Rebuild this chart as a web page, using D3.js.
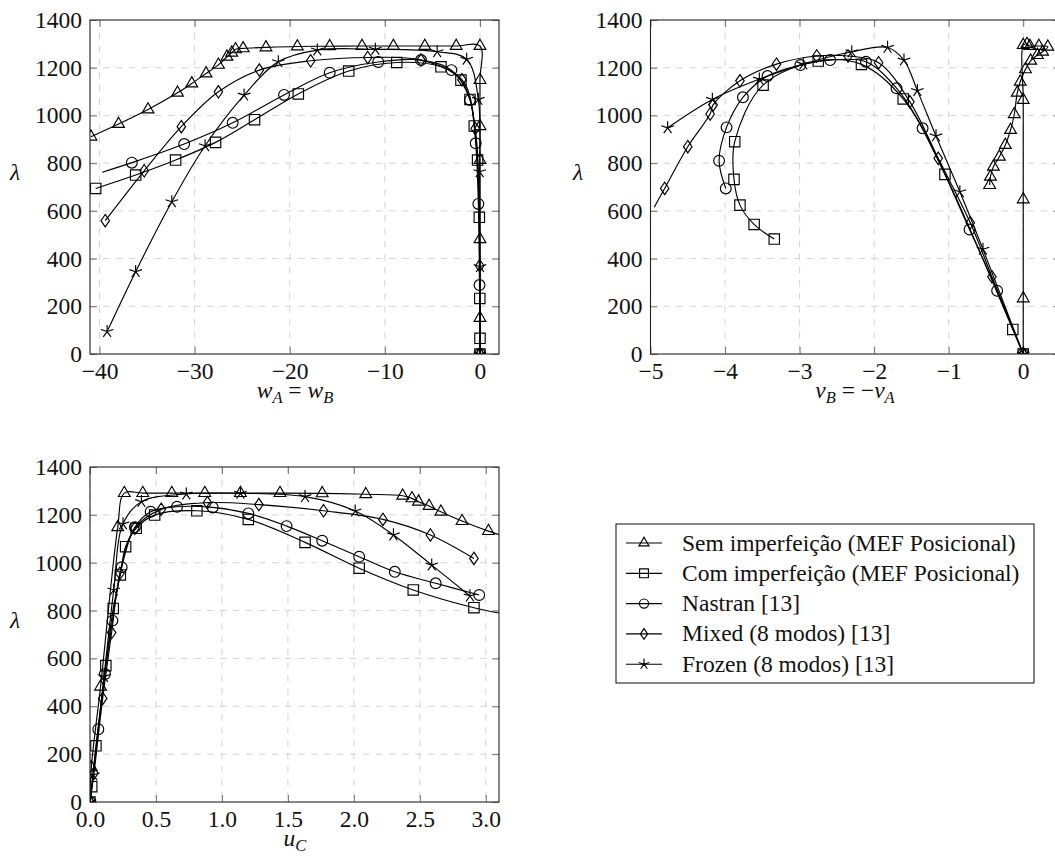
<!DOCTYPE html>
<html lang="pt">
<head>
<meta charset="UTF-8">
<title>Trajetórias de equilíbrio</title>
<script src="https://cdnjs.cloudflare.com/ajax/libs/d3/7.8.5/d3.min.js"></script>
<style>
  * { margin: 0; padding: 0; }
  body { background: #fff; width: 1055px; height: 866px; overflow: hidden; }
  svg text { font-family: "Liberation Serif", "Times New Roman", Times, serif !important; }
</style>
</head>
<body>
<svg id="chart" width="1055" height="866"></svg>
<script>
// ---- dados ----
const seriesNames = [
  "Sem imperfeição (MEF Posicional)",
  "Com imperfeição (MEF Posicional)",
  "Nastran [13]",
  "Mixed (8 modos) [13]",
  "Frozen (8 modos) [13]"
];
const markTypes = ["triangle", "square", "circle", "diamond", "star"];

const yTicks = [0, 200, 400, 600, 800, 1000, 1200, 1400];

// painel w_A = w_B
const xTicksW = [-40, -30, -20, -10, 0];
const semW = [[0,0],[0,151],[0,481],[0,813],[0,955],[0,1148],[0,1291],[-2.5,1291],[-5.8,1291],[-9.1,1291],[-12.4,1291],[-15.8,1290],[-19.2,1289],[-22.5,1285],[-24.9,1281],[-25.7,1277],[-26.1,1263],[-26.6,1246],[-27.5,1212],[-28.8,1176],[-30.3,1134],[-31.8,1095],[-34.9,1025],[-38.0,964],[-40.9,911]];
const comW = [[0,0],[0,66],[-0.02,233],[-0.07,573],[-0.25,813],[-0.6,956],[-1.05,1067],[-2.0,1148],[-4.1,1204],[-8.75,1222],[-13.8,1186],[-19.1,1090],[-23.7,982],[-27.8,887],[-32.0,813],[-36.2,750],[-40.4,694]];
const nasW = [[0,0],[-0.05,289],[-0.17,629],[-0.45,883],[-1.05,1065],[-3.0,1190],[-6.2,1232],[-10.7,1224],[-15.8,1179],[-20.6,1086],[-26.0,969],[-31.1,880],[-36.6,802],[-39.7,762]];
const mixW = [[0,0],[-0.03,370],[-0.5,945],[-1.9,1150],[-6.2,1232],[-11.8,1243],[-17.8,1229],[-23.2,1190],[-27.5,1099],[-31.4,953],[-35.3,768],[-39.4,559]];
const froW = [[0,0],[0,366],[-0.03,764],[-0.17,1067],[-1.4,1235],[-4.5,1267],[-11.0,1277],[-17.1,1274],[-21.2,1225],[-24.8,1085],[-28.9,873],[-32.4,638],[-36.2,345],[-39.2,94]];
const lineOnlyW = [[-39.7,762]];

// painel v_B = -v_A
const xTicksV = [-5, -4, -3, -2, -1, 0];
const semV = [[0,0],[0,233],[0,648],[0,1065],[0,1295],[0.05,1299],[0.09,1291],[0.21,1291],[0.33,1288],[0.26,1267],[0.19,1253],[0.10,1229],[0.03,1193],[-0.04,1141],[-0.08,1095],[-0.12,1005],[-0.17,939],[-0.24,876],[-0.32,827],[-0.40,785],[-0.44,743],[-0.45,708]];
const comV = [[0,0],[-0.14,103],[-1.05,753],[-1.61,1069],[-2.17,1214],[-2.75,1228],[-3.49,1127],[-3.87,890],[-3.88,732],[-3.80,624],[-3.61,543],[-3.34,482]];
const nasV = [[0,0],[-0.35,265],[-0.72,522],[-1.35,946],[-1.70,1114],[-2.11,1225],[-2.59,1232],[-2.99,1211],[-3.43,1165],[-3.76,1076],[-3.98,950],[-4.08,810],[-3.99,694]];
const mixV = [[0,0],[-0.42,324],[-0.71,550],[-1.14,820],[-1.52,1057],[-1.94,1221],[-2.35,1249],[-2.77,1249],[-3.31,1215],[-3.80,1145],[-4.16,1044],[-4.20,1006],[-4.50,869],[-4.81,694],[-4.95,615]];
const froV = [[0,0],[-0.54,439],[-0.85,680],[-1.17,914],[-1.42,1104],[-1.60,1232],[-1.82,1285],[-2.30,1267],[-2.95,1215],[-3.54,1152],[-4.17,1067],[-4.77,948]];
const lineOnlyV = [[-4.95,615]];

// painel u_C
const xTicksU = [0, 0.5, 1.0, 1.5, 2.0, 2.5, 3.0];
const semU = [[0,0],[0.01,145],[0.08,482],[0.21,1148],[0.26,1291],[0.40,1291],[0.62,1291],[0.87,1291],[1.14,1291],[1.44,1291],[1.76,1290],[2.09,1286],[2.37,1280],[2.44,1269],[2.49,1255],[2.57,1237],[2.66,1213],[2.82,1174],[3.02,1132],[3.3,1085]];
const comU = [[0,0],[0.013,64],[0.045,235],[0.12,570],[0.176,809],[0.23,949],[0.27,1067],[0.35,1144],[0.49,1199],[0.81,1217],[1.20,1181],[1.63,1085],[2.04,977],[2.45,886],[2.91,812],[3.3,770]];
const nasU = [[0,0],[0.063,304],[0.113,535],[0.17,758],[0.24,981],[0.34,1148],[0.46,1213],[0.66,1234],[0.93,1231],[1.20,1206],[1.49,1153],[1.76,1092],[2.04,1025],[2.31,962],[2.62,914],[2.95,865]];
const mixU = [[0,0],[0.03,120],[0.096,433],[0.164,708],[0.227,956],[0.34,1144],[0.54,1223],[0.89,1251],[1.28,1243],[1.77,1217],[2.22,1181],[2.58,1116],[2.91,1018]];
const froU = [[0,0],[0.025,113],[0.106,524],[0.18,886],[0.25,1162],[0.39,1255],[0.73,1287],[1.14,1290],[1.63,1276],[2.01,1216],[2.30,1116],[2.59,990],[2.88,861]];
const lineOnlyU = [];

// ---- desenho ----
const svg = d3.select("#chart");
const FONT = 23.5;
const SW = 1.15;   // espessura das linhas e marcas

const panels = [
  { id: "w", left: 90, top: 20, width: 409, height: 334, xDomain: [-41, 2], xTicks: xTicksW,
    fmt: d3.format("d"), series: [semW, comW, nasW, mixW, froW], lineOnly: lineOnlyW,
    xLabel: [["w", "i"], ["A", "s"], [" = ", ""], ["w", "i"], ["B", "s"]], xLabelX: 295, yLabelX: 15 },
  { id: "v", left: 650.5, top: 20, width: 410, height: 334, xDomain: [-5, 0.5], xTicks: xTicksV,
    fmt: d3.format("d"), series: [semV, comV, nasV, mixV, froV], lineOnly: lineOnlyV,
    xLabel: [["v", "i"], ["B", "s"], [" = −", ""], ["v", "i"], ["A", "s"]], xLabelX: 855, yLabelX: 578 },
  { id: "u", left: 90, top: 467, width: 409, height: 335, xDomain: [0, 3.1], xTicks: xTicksU,
    fmt: d3.format(".1f"), series: [semU, comU, nasU, mixU, froU], lineOnly: lineOnlyU,
    xLabel: [["u", "i"], ["C", "s"]], xLabelX: 295, yLabelX: 15 }
];

function markPath(type, r) {
  switch (type) {
    case "triangle":
      return `M0,${-r}L${r * 0.866},${r * 0.5}L${-r * 0.866},${r * 0.5}Z`;
    case "square":
      return `M${-r},${-r}H${r}V${r}H${-r}Z`;
    case "circle":
      return `M${r},0A${r},${r} 0 1,1 ${-r},0A${r},${r} 0 1,1 ${r},0Z`;
    case "diamond":
      return `M0,${-r * 1.2}L${r * 0.82},0L0,${r * 1.2}L${-r * 0.82},0Z`;
    case "star": {
      let p = "";
      for (let k = 0; k < 5; k++) {
        const a = (-90 + 72 * k) * Math.PI / 180;
        p += `M0,0L${(r * Math.cos(a)).toFixed(2)},${(r * Math.sin(a)).toFixed(2)}`;
      }
      return p;
    }
  }
}
const markSize = { triangle: 6.8, square: 5.2, circle: 5.4, diamond: 5.2, star: 6.6 };

function writeLabel(sel, parts) {
  parts.forEach(([t, kind], i) => {
    const prev = i > 0 ? parts[i - 1][1] : "";
    const ts = sel.append("tspan").text(t);
    if (kind === "i") ts.attr("font-style", "italic");
    if (kind === "s") ts.attr("font-style", "italic").attr("font-size", 16.5).attr("dy", 5);
    else if (prev === "s") ts.attr("dy", -5);
  });
}

const line = d3.line().curve(d3.curveCatmullRom.alpha(0.5));

panels.forEach(p => {
  const x = d3.scaleLinear().domain(p.xDomain).range([p.left, p.left + p.width]);
  const y = d3.scaleLinear().domain([0, 1400]).range([p.top + p.height, p.top]);
  const g = svg.append("g").attr("class", "panel-" + p.id);

  g.append("clipPath").attr("id", "clip-" + p.id)
    .append("rect").attr("x", p.left).attr("y", p.top)
    .attr("width", p.width).attr("height", p.height);

  // grade
  const grid = g.append("g").attr("stroke", "#cfcfcf").attr("stroke-width", 0.9)
    .attr("stroke-dasharray", "6.5,6.5");
  grid.selectAll("line.gx").data(p.xTicks).join("line")
    .attr("x1", d => x(d)).attr("x2", d => x(d))
    .attr("y1", p.top).attr("y2", p.top + p.height);
  grid.selectAll("line.gy").data(yTicks.slice(1, -1)).join("line")
    .attr("class", "gy")
    .attr("x1", p.left).attr("x2", p.left + p.width)
    .attr("y1", d => y(d)).attr("y2", d => y(d));

  // eixos (ticks para dentro nos quatro lados)
  const tk = 7;
  const axB = d3.axisBottom(x).tickValues(p.xTicks).tickFormat(p.fmt).tickSizeInner(-tk).tickSizeOuter(0).tickPadding(8);
  const axT = d3.axisTop(x).tickValues(p.xTicks).tickFormat("").tickSizeInner(-tk).tickSizeOuter(0);
  const axL = d3.axisLeft(y).tickValues(yTicks).tickFormat(d3.format("d")).tickSizeInner(-tk).tickSizeOuter(0).tickPadding(8);
  const axR = d3.axisRight(y).tickValues(yTicks).tickFormat("").tickSizeInner(-tk).tickSizeOuter(0);

  const styleAxis = a => {
    a.select(".domain").remove();
    a.selectAll(".tick line").attr("stroke", "#666").attr("stroke-width", 0.9);
    a.selectAll(".tick text").attr("font-size", FONT).attr("fill", "#111");
  };
  g.append("g").attr("transform", `translate(0,${p.top + p.height})`).call(axB).call(styleAxis);
  g.append("g").attr("transform", `translate(0,${p.top})`).call(axT).call(styleAxis);
  g.append("g").attr("transform", `translate(${p.left},0)`).call(axL).call(styleAxis);
  g.append("g").attr("transform", `translate(${p.left + p.width},0)`).call(axR).call(styleAxis);

  // séries
  const plot = g.append("g").attr("clip-path", `url(#clip-${p.id})`);
  p.series.forEach((pts, si) => {
    plot.append("path")
      .attr("d", line(pts.map(d => [x(d[0]), y(d[1])])))
      .attr("fill", "none").attr("stroke", "#000").attr("stroke-width", SW);
    const marked = pts.filter(d => !p.lineOnly.some(o => o[0] === d[0] && o[1] === d[1]));
    const type = markTypes[si];
    plot.selectAll(null).data(marked).join("path")
      .attr("transform", d => `translate(${x(d[0])},${y(d[1])})`)
      .attr("d", markPath(type, markSize[type]))
      .attr("fill", "none").attr("stroke", "#000").attr("stroke-width", SW);
  });

  // moldura
  g.append("rect").attr("x", p.left).attr("y", p.top)
    .attr("width", p.width).attr("height", p.height)
    .attr("fill", "none").attr("stroke", "#222").attr("stroke-width", 1.1);

  // rótulos
  const xl = g.append("text").attr("x", p.xLabelX).attr("y", p.top + p.height + 44)
    .attr("text-anchor", "middle").attr("font-size", FONT).attr("fill", "#111");
  writeLabel(xl, p.xLabel);
  g.append("text").attr("x", p.yLabelX).attr("y", p.top + p.height / 2 - 7)
    .attr("text-anchor", "middle").attr("font-size", FONT).attr("font-style", "italic")
    .attr("fill", "#111").text("λ");
});

// legenda
const leg = { left: 616, top: 524, width: 418, height: 159, row: 30.3 };
const lg = svg.append("g");
lg.append("rect").attr("x", leg.left).attr("y", leg.top).attr("width", leg.width).attr("height", leg.height)
  .attr("fill", "#fff").attr("stroke", "#222").attr("stroke-width", 1.1);
seriesNames.forEach((name, i) => {
  const cy = leg.top + 19 + i * leg.row;
  lg.append("line").attr("x1", leg.left + 10).attr("x2", leg.left + 46)
    .attr("y1", cy).attr("y2", cy).attr("stroke", "#000").attr("stroke-width", SW);
  lg.append("path").attr("transform", `translate(${leg.left + 28},${cy})`)
    .attr("d", markPath(markTypes[i], markSize[markTypes[i]] * 0.85))
    .attr("fill", "none").attr("stroke", "#000").attr("stroke-width", SW);
  lg.append("text").attr("x", leg.left + 66).attr("y", cy + 7.5)
    .attr("font-size", FONT).attr("fill", "#111").text(name);
});
</script>
</body>
</html>
